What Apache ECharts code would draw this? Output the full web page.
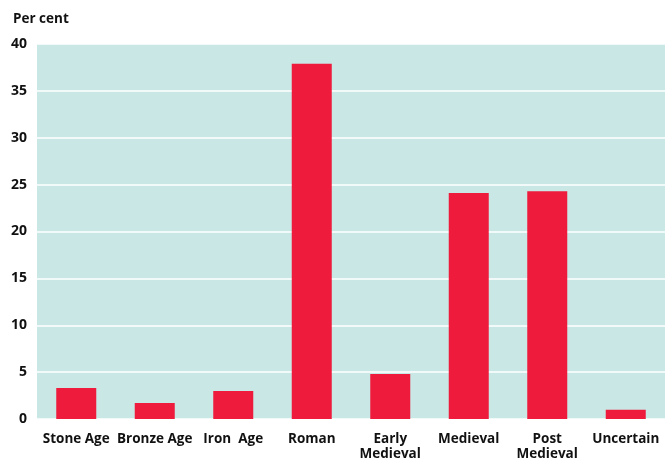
<!DOCTYPE html>
<html>
<head>
<meta charset="utf-8">
<script src="https://cdn.jsdelivr.net/npm/echarts@6/dist/echarts.min.js"></script>
<style>
  html, body { margin: 0; padding: 0; background: #ffffff; }
  #chart { width: 665px; height: 462px; }
</style>
</head>
<body>
<div id="chart"></div>
<script>
// Share of finds by period (per cent)
const categories = ['Stone Age', 'Bronze Age', 'Iron  Age', 'Roman', 'Early\nMedieval', 'Medieval', 'Post\nMedieval', 'Uncertain'];
const shares = [3.3, 1.7, 3.0, 37.9, 4.8, 24.1, 24.3, 1.0];
const yTicks = [0, 5, 10, 15, 20, 25, 30, 35, 40];

const FONT = '"Open Sans", "Noto Sans", sans-serif';
const chart = echarts.init(document.getElementById('chart'), null, { renderer: 'canvas' });

chart.setOption({
  animation: false,
  backgroundColor: '#ffffff',
  title: {
    text: 'Per cent',
    left: 8,
    top: 7,
    textStyle: { fontFamily: FONT, fontSize: 13.5, fontWeight: 'bold', color: '#111111' }
  },
  grid: { left: 37, right: 0, top: 44, bottom: 37, containLabel: false, show: true, backgroundColor: '#c9e7e5', borderWidth: 0 },
  xAxis: {
    type: 'category',
    data: categories,
    axisLine: { show: false },
    axisTick: { show: false },
    axisLabel: {
      interval: 0,
      margin: 13,
      fontFamily: FONT,
      fontSize: 13.5,
      fontWeight: 'bold',
      color: '#111111',
      lineHeight: 15
    }
  },
  yAxis: {
    type: 'value',
    min: yTicks[0],
    max: yTicks[yTicks.length - 1],
    interval: 5,
    axisLine: { show: false },
    axisTick: { show: false },
    splitLine: { lineStyle: { color: '#ffffff', width: 1.5 } },
    axisLabel: {
      margin: 10,
      fontFamily: FONT,
      fontSize: 14,
      fontWeight: 'bold',
      color: '#111111'
    }
  },
  series: [{
    type: 'bar',
    data: shares,
    barWidth: 40,
    itemStyle: { color: '#ee1b3c' }
  }]
});
</script>
</body>
</html>
